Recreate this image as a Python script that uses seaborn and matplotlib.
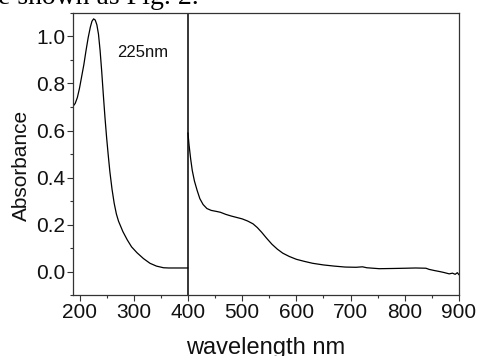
import pandas as pd
import matplotlib
matplotlib.use("Agg")
import matplotlib.pyplot as plt
import seaborn as sns
from matplotlib.ticker import MultipleLocator

# UV part of the spectrum (188-400 nm)
uv_wl = [188, 192, 196, 200, 204, 208, 212, 216, 220, 223, 226, 229, 232, 235,
         238, 241, 244, 247, 250, 253, 256, 260, 264, 268, 272, 280, 288, 296,
         306, 318, 330, 342, 355, 365, 380, 400]
uv_abs = [0.703, 0.715, 0.74, 0.78, 0.83, 0.88, 0.94, 0.995, 1.04, 1.065,
          1.075, 1.07, 1.05, 1.01, 0.94, 0.85, 0.75, 0.655, 0.57, 0.495, 0.425,
          0.35, 0.29, 0.245, 0.214, 0.17, 0.135, 0.105, 0.080, 0.055, 0.035,
          0.023, 0.016, 0.015, 0.015, 0.015]

# visible part of the spectrum (400-900 nm)
vis_wl = [400, 402, 405, 408, 412, 417, 422, 428, 435, 443, 452, 460, 470, 480,
          490, 500, 510, 520, 528, 536, 545, 555, 565, 575, 587, 600, 615, 630,
          650, 670, 690, 710, 722, 730, 753, 780, 802, 820, 839, 845, 855, 864,
          872, 882, 888, 893, 897, 900]
vis_abs = [0.59, 0.54, 0.48, 0.43, 0.385, 0.345, 0.31, 0.285, 0.268, 0.260,
           0.256, 0.252, 0.243, 0.236, 0.230, 0.224, 0.215, 0.203, 0.187, 0.167,
           0.142, 0.116, 0.095, 0.078, 0.064, 0.052, 0.043, 0.035, 0.028, 0.023,
           0.019, 0.018, 0.020, 0.016, 0.012, 0.013, 0.014, 0.015, 0.014, 0.009,
           0.004, 0.000, -0.004, -0.010, -0.007, -0.012, -0.005, -0.014]

peak_label = "225nm"
split_wl = 400

sns.set_style("ticks")
plt.rcParams["font.family"] = ["Liberation Sans", "DejaVu Sans"]

uv = pd.DataFrame({"wl": uv_wl, "abs": uv_abs})
vis = pd.DataFrame({"wl": vis_wl, "abs": vis_abs})

fig = plt.figure(figsize=(4.79, 3.56), dpi=100)
ax = fig.add_axes([0.1524, 0.1713, 0.8058, 0.7922])

sns.lineplot(data=uv, x="wl", y="abs", color="black", lw=0.9, ax=ax)
sns.lineplot(data=vis, x="wl", y="abs", color="black", lw=0.9, ax=ax)
ax.axvline(split_wl, color="black", lw=1.1)

ax.set_xlim(188, 900)
ax.set_ylim(-0.1, 1.1)
ax.xaxis.set_major_locator(MultipleLocator(100))
ax.xaxis.set_minor_locator(MultipleLocator(50))
ax.yaxis.set_minor_locator(MultipleLocator(0.1))
ax.set_yticks([0.0, 0.2, 0.4, 0.6, 0.8, 1.0])
ax.set_yticklabels(["0.0", "0.2", "0.4", "0.6", "0.8", "1.0"])

for side in ax.spines.values():
    side.set_color("#333333")
    side.set_linewidth(0.9)
ax.tick_params(which="major", length=4, width=0.8, color="#333333", pad=1.5,
               labelsize=15, labelcolor="#111111")
ax.tick_params(which="minor", length=2, width=0.8, color="#333333")

ax.set_xlabel("wavelength nm", fontsize=17, color="#111111")
ax.set_ylabel("Absorbance", fontsize=15, color="#111111")
ax.xaxis.set_label_coords(0.5, -0.15)
ax.yaxis.set_label_coords(-0.11, 0.46)

ax.text(317, 0.93, peak_label, fontsize=12, ha="center", va="center",
        color="#111111")

# caption fragment cut off at the top of the picture
fig.text(-0.005, 0.988, "e shown as Fig. 2.", fontsize=20, va="baseline",
         family=["Liberation Serif", "DejaVu Serif"], color="black")

fig.savefig("out.png", dpi=100)
